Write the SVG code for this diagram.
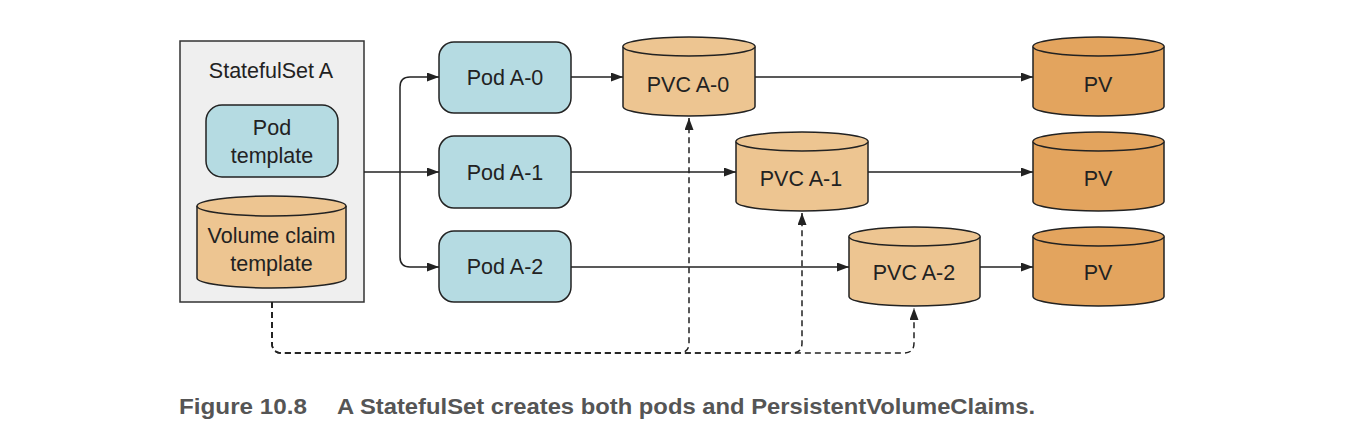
<svg xmlns="http://www.w3.org/2000/svg" width="1362" height="444" viewBox="0 0 1362 444">
<style>
  .lbl { font-family: "Liberation Sans", Arial, sans-serif; font-size: 21.5px; fill: #222; text-anchor: middle; }
  .pod { fill: #b5dbe2; stroke: #222; stroke-width: 1.5; }
  .pvc { fill: #edc591; stroke: #222; stroke-width: 1.5; }
  .pv { fill: #e3a45e; stroke: #222; stroke-width: 1.5; }
  .conn { fill: none; stroke: #222; stroke-width: 1.5; }
  .dash { fill: none; stroke: #222; stroke-width: 1.5; stroke-dasharray: 6 4; }
  .cap { font-family: "Liberation Sans", Arial, sans-serif; font-size: 22px; font-weight: bold; fill: #555; }
</style>
<defs>
  <marker id="arr" markerUnits="userSpaceOnUse" markerWidth="12" markerHeight="9" refX="12" refY="4.5" orient="auto">
    <path d="M0,0 L12,4.5 L0,9 z" fill="#222"/>
  </marker>
</defs>
<rect width="1362" height="444" fill="#fff"/>

<g id="statefulset">
  <rect x="180" y="41" width="184" height="261" fill="#efefef" stroke="#333" stroke-width="1.5"/>
  <text class="lbl" x="271" y="78">StatefulSet A</text>
</g>
<g id="pod-template">
  <rect class="pod" x="206" y="105" width="132" height="72" rx="16"/>
  <text class="lbl" x="272" y="135">Pod</text>
  <text class="lbl" x="272" y="163">template</text>
</g>
<g id="volume-claim-template">
  <path class="pvc" d="M197,206 V278 A74.5,10 0 0 0 346,278 V206 A74.5,10 0 0 0 197,206 Z"/>
  <path class="pvc" d="M197,206 A74.5,10 0 0 0 346,206" fill="none"/>
  <text class="lbl" x="271.5" y="243">Volume claim</text>
  <text class="lbl" x="271.5" y="271">template</text>
</g>

<g id="pod-a-0">
  <rect class="pod" x="439" y="42" width="132" height="71" rx="15"/>
  <text class="lbl" x="505" y="85">Pod A-0</text>
</g>
<g id="pod-a-1">
  <rect class="pod" x="439" y="136" width="132" height="72" rx="15"/>
  <text class="lbl" x="505" y="180">Pod A-1</text>
</g>
<g id="pod-a-2">
  <rect class="pod" x="439" y="231" width="132" height="71" rx="15"/>
  <text class="lbl" x="505" y="274">Pod A-2</text>
</g>

<g id="pvc-a-0">
  <path class="pvc" d="M623,46.5 V106.5 A66,9.5 0 0 0 755,106.5 V46.5 A66,9.5 0 0 0 623,46.5 Z"/>
  <path class="pvc" d="M623,46.5 A66,9.5 0 0 0 755,46.5" fill="none"/>
  <text class="lbl" x="688" y="92">PVC A-0</text>
</g>
<g id="pvc-a-1">
  <path class="pvc" d="M736,141.5 V201.5 A66,9.5 0 0 0 868,201.5 V141.5 A66,9.5 0 0 0 736,141.5 Z"/>
  <path class="pvc" d="M736,141.5 A66,9.5 0 0 0 868,141.5" fill="none"/>
  <text class="lbl" x="801" y="186">PVC A-1</text>
</g>
<g id="pvc-a-2">
  <path class="pvc" d="M849,236.5 V296.5 A65.5,9.5 0 0 0 980,296.5 V236.5 A65.5,9.5 0 0 0 849,236.5 Z"/>
  <path class="pvc" d="M849,236.5 A65.5,9.5 0 0 0 980,236.5" fill="none"/>
  <text class="lbl" x="914" y="280">PVC A-2</text>
</g>

<g id="pv-0">
  <path class="pv" d="M1033,46.5 V106.5 A65.5,9.5 0 0 0 1164,106.5 V46.5 A65.5,9.5 0 0 0 1033,46.5 Z"/>
  <path class="pv" d="M1033,46.5 A65.5,9.5 0 0 0 1164,46.5" fill="none"/>
  <text class="lbl" x="1098" y="92">PV</text>
</g>
<g id="pv-1">
  <path class="pv" d="M1033,141.5 V201.5 A65.5,9.5 0 0 0 1164,201.5 V141.5 A65.5,9.5 0 0 0 1033,141.5 Z"/>
  <path class="pv" d="M1033,141.5 A65.5,9.5 0 0 0 1164,141.5" fill="none"/>
  <text class="lbl" x="1098" y="186">PV</text>
</g>
<g id="pv-2">
  <path class="pv" d="M1033,236.5 V296.5 A65.5,9.5 0 0 0 1164,296.5 V236.5 A65.5,9.5 0 0 0 1033,236.5 Z"/>
  <path class="pv" d="M1033,236.5 A65.5,9.5 0 0 0 1164,236.5" fill="none"/>
  <text class="lbl" x="1098" y="280">PV</text>
</g>

<g id="connectors">
  <path class="conn" d="M364,172 H439" marker-end="url(#arr)"/>
  <path class="conn" d="M400,172 V87 Q400,77 410,77 H439" marker-end="url(#arr)"/>
  <path class="conn" d="M400,172 V257 Q400,267 410,267 H439" marker-end="url(#arr)"/>
  <path class="conn" d="M571,77 H623" marker-end="url(#arr)"/>
  <path class="conn" d="M571,172 H736" marker-end="url(#arr)"/>
  <path class="conn" d="M571,267 H849" marker-end="url(#arr)"/>
  <path class="conn" d="M755,77 H1033" marker-end="url(#arr)"/>
  <path class="conn" d="M868,172 H1033" marker-end="url(#arr)"/>
  <path class="conn" d="M980,267 H1033" marker-end="url(#arr)"/>
  <path class="dash" d="M272,302 V343 Q272,353 282,353 H679 Q689,353 689,343 V118" marker-end="url(#arr)"/>
  <path class="dash" d="M272,302 V343 Q272,353 282,353 H792 Q802,353 802,343 V213" marker-end="url(#arr)"/>
  <path class="dash" d="M272,302 V343 Q272,353 282,353 H904 Q914,353 914,343 V308" marker-end="url(#arr)"/>
</g>

<g id="caption">
  <text class="cap" x="179" y="414" textLength="128" lengthAdjust="spacingAndGlyphs">Figure 10.8</text>
  <text class="cap" x="337" y="414" textLength="698" lengthAdjust="spacingAndGlyphs">A StatefulSet creates both pods and PersistentVolumeClaims.</text>
</g>
</svg>
